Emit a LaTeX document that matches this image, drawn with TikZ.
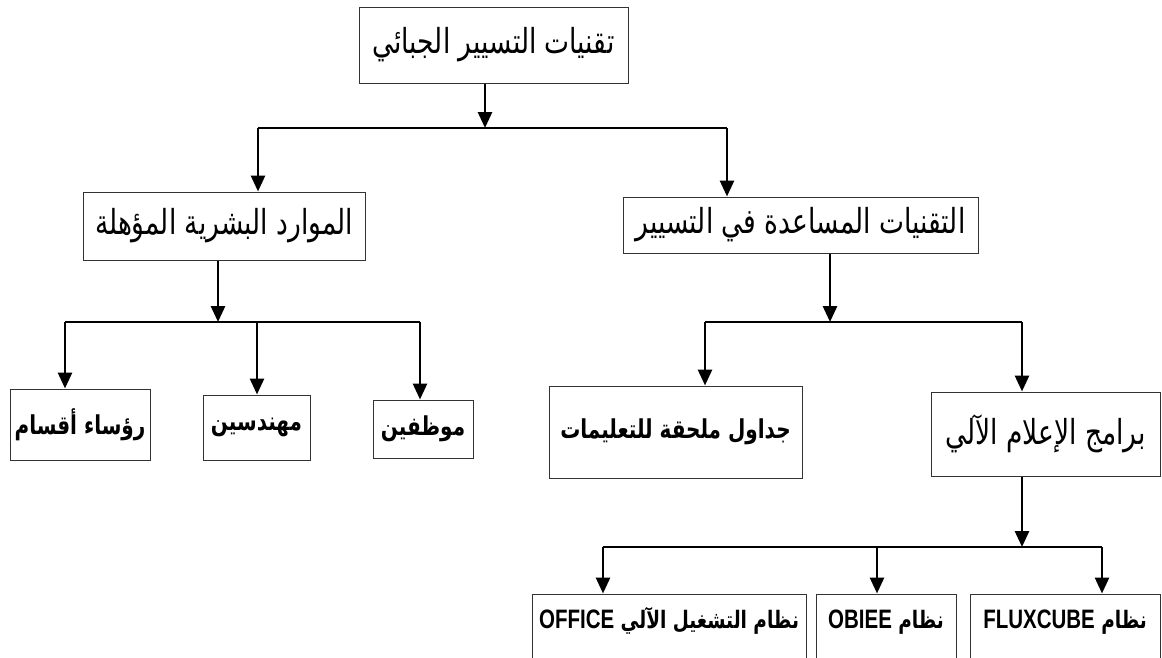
\documentclass[tikz,border=0pt]{standalone}
\usepackage{fontspec}
\usepackage{graphicx}
\usetikzlibrary{arrows.meta}
\TeXXeTstate=1
\newfontfamily\arabicfont[Script=Arabic]{DejaVu Sans}
\newfontfamily\latinfont{Liberation Sans}
\newcommand{\artext}[1]{\scalebox{1}[1.3]{\beginR #1\endR}}
\newcommand{\lat}[1]{\beginL\latinfont\fontsize{20.5}{24}\selectfont #1\endL}

\begin{document}
\begin{tikzpicture}[x=1pt,y=-1pt,
  box/.style={draw=black!80, line width=1pt, inner sep=0pt, align=center,
    font=\arabicfont\fontsize{26.5}{30}\selectfont},
  sub/.style={box, font=\arabicfont\bfseries\fontsize{20}{24}\selectfont},
  sys/.style={draw=black!80, line width=1pt, inner xsep=0pt, inner ysep=10pt,
    anchor=base, text height=24pt, text depth=50pt,
    font=\arabicfont\bfseries\fontsize{18.5}{22}\selectfont},
  bus/.style={line width=2.8pt},
  arr/.style={line width=2.8pt, -{Triangle[width=14pt,length=16pt]}}]
\clip (0,0) rectangle (1162,657);
\fill[white] (0,0) rectangle (1162,657);

% boxes
\node[box, minimum width=269pt, minimum height=76pt] (top) at (493.5,45) {\artext{تقنيات التسيير الجبائي}};
\node[box, minimum width=282pt, minimum height=68pt] (hr) at (224,226) {\artext{الموارد البشرية المؤهلة}};
\node[box, minimum width=355pt, minimum height=56pt] (ts) at (800.5,225) {\artext{التقنيات المساعدة في التسيير}};
\node[sub, minimum width=140pt, minimum height=71pt] (rq) at (80,424.5) {\artext{رؤساء أقسام}};
\node[sub, minimum width=107pt, minimum height=65pt] (mh) at (256.5,427.5) {\artext{مهندسين}};
\node[sub, minimum width=100pt, minimum height=58pt] (mw) at (423,429) {\artext{موظفين}};
\node[sub, minimum width=253pt, minimum height=92pt] (jd) at (675.5,432) {\artext{جداول ملحقة للتعليمات}};
\node[box, minimum width=229pt, minimum height=84pt] (br) at (1045.5,434) {\artext{برامج الإعلام الآلي}};
\node[sys, minimum width=274pt] (of) at (669,628) {\artext{نظام التشغيل الآلي \lat{OFFICE}}};
\node[sys, minimum width=140pt] (ob) at (886,628) {\artext{نظام \lat{OBIEE}}};
\node[sys, minimum width=190pt] (fx) at (1065,628) {\artext{نظام \lat{FLUXCUBE}}};

% first level
\coordinate (b0) at (485,128);
\coordinate (b0l) at (258,128);
\coordinate (b0r) at (727,128);
\draw[arr] (top.south -| b0) -- (b0);
\draw[bus] (b0l) -- (b0r);
\draw[arr] (b0l) -- (hr.north -| b0l);
\draw[arr] (b0r) -- (ts.north -| b0r);

% human resources
\coordinate (b1) at (218,322);
\coordinate (b1l) at (65,322);
\coordinate (b1m) at (257,322);
\coordinate (b1r) at (420,322);
\draw[arr] (hr.south -| b1) -- (b1);
\draw[bus] (b1l) -- (b1r);
\foreach \c/\n in {b1l/rq,b1m/mh,b1r/mw}
  \draw[arr] (\c) -- (\n.north -| \c);

% support techniques
\coordinate (b2) at (830,322);
\coordinate (b2l) at (705,322);
\coordinate (b2r) at (1022,322);
\draw[arr] (ts.south -| b2) -- (b2);
\draw[bus] (b2l) -- (b2r);
\draw[arr] (b2l) -- (jd.north -| b2l);
\draw[arr] (b2r) -- (br.north -| b2r);

% software
\coordinate (b3) at (1022,547);
\coordinate (b3l) at (603,547);
\coordinate (b3m) at (877,547);
\coordinate (b3r) at (1102,547);
\draw[arr] (br.south -| b3) -- (b3);
\draw[bus] (b3l) -- (b3r);
\foreach \c/\n in {b3l/of,b3m/ob,b3r/fx}
  \draw[arr] (\c) -- (\n.north -| \c);
\end{tikzpicture}
\end{document}
